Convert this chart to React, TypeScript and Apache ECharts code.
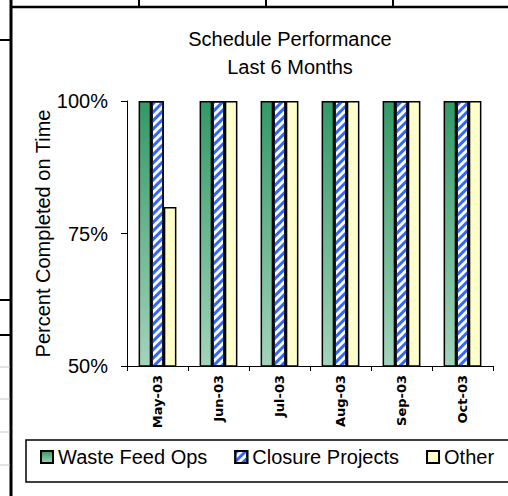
import React, { useEffect, useRef } from "react";
import * as echarts from "echarts";

const categories = ["May-03", "Jun-03", "Jul-03", "Aug-03", "Sep-03", "Oct-03"];
const wasteFeedOps = [1, 1, 1, 1, 1, 1];
const closureProjects = [1, 1, 1, 1, 1, 1];
const other = [0.8, 1, 1, 1, 1, 1];
const yTicks = { min: 0.5, max: 1, interval: 0.25 };

const FONT = "Liberation Sans, Arial, sans-serif";

export default function App() {
  const ref = useRef<HTMLDivElement>(null);
  useEffect(() => {
    if (!ref.current) return;
    const chart = echarts.init(ref.current, null, { renderer: "svg" });
    const border = { borderColor: "#000", borderWidth: 1.5 };
    const line = (x1: number, y1: number, x2: number, y2: number, w: number, c = "#000") => ({
      type: "line",
      shape: { x1, y1, x2, y2 },
      style: { stroke: c, lineWidth: w },
      silent: true,
    });
    chart.setOption({
      animation: false,
      backgroundColor: "#fff",
      title: {
        text: "Schedule Performance\nLast 6 Months",
        left: 290,
        top: 25,
        textAlign: "center",
        padding: 0,
        textStyle: { fontFamily: FONT, fontSize: 20, fontWeight: "normal", color: "#000", lineHeight: 28 },
      },
      legend: {
        left: 40,
        top: 447,
        padding: 0,
        itemWidth: 12,
        itemHeight: 12,
        itemGap: 27,
        icon: "rect",
        textStyle: { fontFamily: FONT, fontSize: 20, color: "#000" },
        data: ["Waste Feed Ops", "Closure Projects", "Other"],
      },
      grid: { left: 127, right: 15, top: 101, bottom: 130 },
      xAxis: {
        type: "category",
        data: categories,
        axisLine: { lineStyle: { color: "#000", width: 1 } },
        axisTick: { show: true, length: 5, lineStyle: { color: "#000" } },
        axisLabel: {
          rotate: 90,
          margin: 9,
          fontFamily: "DejaVu Sans, sans-serif",
          fontSize: 13,
          fontWeight: "bold",
          color: "#000",
          interval: 0,
        },
      },
      yAxis: {
        type: "value",
        min: yTicks.min,
        max: yTicks.max,
        interval: yTicks.interval,
        name: "Percent Completed on Time",
        nameLocation: "middle",
        nameRotate: 90,
        nameGap: 74,
        nameMoveOverlap: false,
        nameTextStyle: { fontFamily: FONT, fontSize: 20, color: "#000" },
        splitLine: { show: false },
        axisLine: { show: true, lineStyle: { color: "#000", width: 1 } },
        axisTick: { show: true, length: 6, lineStyle: { color: "#000" } },
        axisLabel: {
          margin: 19,
          fontFamily: FONT,
          fontSize: 20,
          color: "#000",
          formatter: (v: number) => Math.round(v * 100) + "%",
        },
      },
      series: [
        {
          name: "Waste Feed Ops",
          type: "bar",
          data: wasteFeedOps,
          barGap: "0%",
          barCategoryGap: "38%",
          itemStyle: {
            ...border,
            color: new echarts.graphic.LinearGradient(0, 0, 0, 1, [
              { offset: 0, color: "#339966" },
              { offset: 1, color: "#a3d4bb" },
            ]),
          },
        },
        {
          name: "Closure Projects",
          type: "bar",
          data: closureProjects,
          barGap: "0%",
          barCategoryGap: "38%",
          itemStyle: {
            ...border,
            color: "#ffffff",
            decal: {
              symbol: "rect",
              symbolSize: 1,
              color: "#3366ff",
              backgroundColor: "#ffffff",
              dashArrayX: [1, 0],
              dashArrayY: [3, 2.8],
              rotation: -Math.PI / 4,
            },
          },
        },
        {
          name: "Other",
          type: "bar",
          data: other,
          barGap: "0%",
          barCategoryGap: "38%",
          itemStyle: { ...border, color: "#ffffcc" },
        },
      ],
      graphic: [
        line(11, 0, 11, 496, 3),
        line(10, 7, 508, 7, 2.5),
        line(139, 0, 139, 7, 2),
        line(266, 0, 266, 7, 2),
        line(393, 0, 393, 7, 2),
        line(0, 40, 11, 40, 2),
        line(0, 300, 11, 300, 2),
        line(0, 335, 11, 335, 2),
        line(0, 367, 10, 367, 1, "#c8c8c8"),
        line(0, 399, 10, 399, 1, "#c8c8c8"),
        line(0, 432, 10, 432, 1, "#c8c8c8"),
        line(0, 465, 10, 465, 1, "#c8c8c8"),
        {
          type: "rect",
          shape: { x: 26, y: 440, width: 500, height: 42 },
          style: { fill: "none", stroke: "#000", lineWidth: 1.5 },
          silent: true,
        },
      ],
    });
    return () => chart.dispose();
  }, []);
  return (
    <div
      ref={ref}
      style={{ position: "fixed", left: 0, top: 0, width: 508, height: 496, background: "#fff" }}
    />
  );
}
